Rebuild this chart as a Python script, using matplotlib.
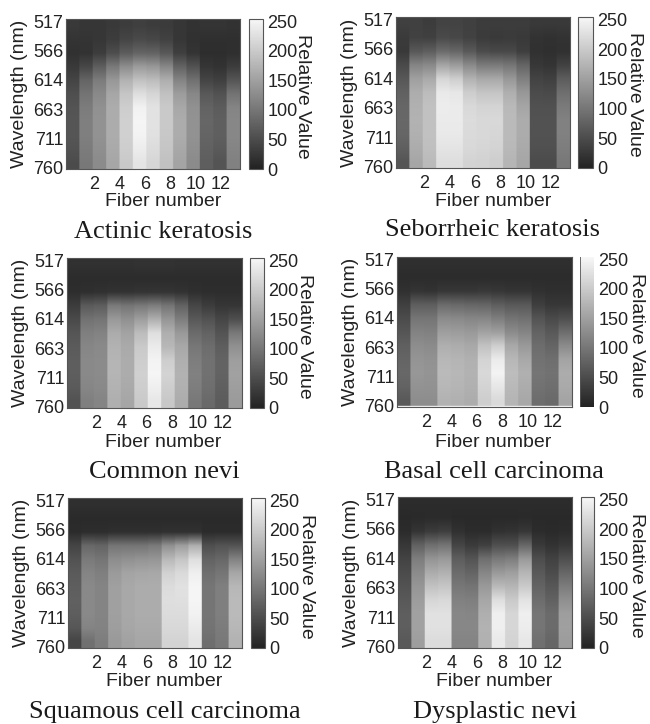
import matplotlib

matplotlib.use("Agg")
import matplotlib.pyplot as plt
import numpy as np
from matplotlib.colors import LinearSegmentedColormap

# 每行一个波长 (517 -> 760 nm), 每列一根光纤 (13 列)
actinic = [
    [28, 25, 25, 28, 32, 35, 32, 30, 25, 20, 22, 22, 20],
    [22, 22, 25, 32, 42, 48, 45, 38, 25, 18, 16, 16, 16],
    [18, 20, 32, 52, 70, 80, 78, 65, 35, 22, 14, 14, 16],
    [28, 45, 72, 105, 128, 145, 140, 122, 78, 58, 24, 20, 32],
    [42, 80, 108, 140, 172, 190, 185, 168, 118, 95, 42, 36, 62],
    [54, 98, 124, 158, 195, 225, 215, 190, 146, 122, 66, 58, 98],
    [60, 108, 132, 165, 205, 248, 230, 200, 160, 132, 78, 70, 118],
    [62, 112, 134, 165, 208, 252, 230, 200, 165, 134, 82, 74, 122],
    [62, 112, 134, 165, 208, 250, 228, 198, 165, 134, 80, 74, 122],
    [58, 108, 130, 162, 205, 242, 222, 195, 160, 130, 76, 68, 118],
    [50, 104, 126, 158, 200, 232, 215, 190, 155, 126, 72, 60, 114],
]
seborrheic = [
    [36, 36, 32, 40, 40, 36, 32, 32, 32, 32, 28, 28, 28],
    [30, 38, 36, 48, 45, 38, 30, 28, 30, 28, 20, 18, 20],
    [28, 65, 72, 88, 82, 66, 50, 46, 46, 34, 18, 16, 18],
    [48, 118, 124, 155, 145, 124, 106, 106, 100, 80, 26, 22, 38],
    [64, 150, 162, 215, 205, 172, 160, 160, 140, 112, 40, 36, 70],
    [76, 166, 184, 238, 235, 204, 194, 194, 168, 140, 50, 48, 92],
    [82, 170, 190, 242, 240, 218, 212, 212, 180, 156, 56, 56, 106],
    [84, 172, 190, 240, 240, 222, 218, 218, 182, 165, 58, 58, 114],
    [82, 170, 190, 238, 238, 220, 218, 215, 182, 165, 58, 58, 114],
    [74, 165, 188, 232, 232, 218, 215, 212, 180, 162, 56, 56, 110],
    [62, 158, 182, 225, 225, 212, 210, 205, 175, 158, 50, 50, 104],
]
common = [
    [18, 18, 18, 18, 18, 20, 20, 20, 18, 18, 18, 18, 18],
    [12, 12, 12, 12, 12, 12, 12, 12, 12, 12, 12, 12, 12],
    [14, 16, 18, 20, 20, 22, 22, 22, 20, 16, 14, 14, 14],
    [32, 68, 72, 106, 100, 105, 110, 100, 78, 44, 32, 24, 24],
    [48, 96, 100, 142, 132, 148, 168, 138, 110, 66, 58, 44, 54],
    [62, 112, 116, 164, 154, 184, 225, 168, 142, 88, 78, 60, 104],
    [68, 120, 124, 172, 162, 200, 240, 178, 160, 102, 90, 72, 132],
    [72, 124, 126, 175, 165, 205, 250, 205, 168, 110, 95, 78, 148],
    [72, 124, 126, 175, 165, 208, 252, 212, 172, 114, 95, 78, 152],
    [68, 120, 124, 172, 162, 205, 245, 205, 170, 110, 92, 74, 148],
    [58, 112, 118, 168, 158, 200, 235, 198, 165, 104, 86, 70, 144],
]
basal = [
    [16, 16, 16, 16, 16, 16, 16, 16, 16, 16, 16, 16, 16],
    [12, 12, 12, 12, 12, 12, 12, 12, 12, 12, 12, 12, 12],
    [18, 22, 20, 25, 25, 25, 27, 25, 22, 22, 18, 16, 16],
    [36, 72, 72, 88, 85, 82, 80, 72, 66, 66, 34, 26, 26],
    [50, 100, 100, 126, 124, 120, 120, 110, 98, 94, 60, 48, 54],
    [62, 116, 114, 148, 146, 142, 152, 148, 126, 118, 78, 66, 90],
    [74, 128, 126, 168, 165, 160, 190, 205, 160, 142, 90, 80, 126],
    [80, 136, 133, 178, 175, 170, 212, 240, 178, 160, 96, 92, 154],
    [84, 140, 136, 182, 178, 172, 218, 250, 185, 170, 100, 96, 165],
    [78, 134, 133, 178, 175, 170, 212, 235, 180, 165, 96, 92, 162],
    [66, 128, 128, 172, 170, 165, 205, 220, 175, 160, 90, 86, 155],
]
squamous = [
    [16, 16, 16, 16, 16, 16, 16, 16, 16, 16, 16, 16, 16],
    [10, 10, 10, 10, 10, 10, 10, 10, 10, 10, 10, 10, 10],
    [12, 14, 14, 16, 16, 16, 16, 18, 18, 18, 12, 12, 12],
    [42, 84, 80, 100, 100, 100, 106, 132, 148, 168, 54, 60, 60],
    [58, 106, 100, 128, 132, 136, 138, 180, 195, 225, 78, 84, 116],
    [68, 118, 112, 144, 155, 158, 160, 210, 220, 245, 92, 100, 158],
    [72, 124, 118, 150, 160, 165, 165, 222, 228, 252, 100, 112, 178],
    [75, 124, 118, 150, 160, 165, 165, 225, 226, 252, 100, 112, 182],
    [72, 124, 118, 150, 160, 165, 165, 222, 222, 248, 100, 112, 182],
    [64, 118, 116, 148, 158, 162, 162, 218, 218, 240, 98, 108, 178],
    [42, 94, 110, 142, 152, 158, 158, 212, 212, 232, 92, 104, 172],
]
dysplastic = [
    [12, 12, 12, 12, 12, 12, 12, 12, 12, 12, 12, 12, 12],
    [9, 10, 11, 11, 9, 9, 9, 9, 9, 10, 9, 9, 9],
    [12, 22, 30, 34, 18, 12, 12, 18, 20, 25, 12, 10, 12],
    [26, 76, 92, 98, 42, 30, 36, 54, 54, 82, 28, 20, 26],
    [40, 110, 136, 142, 72, 60, 92, 104, 110, 142, 52, 38, 54],
    [50, 126, 164, 170, 88, 80, 120, 142, 148, 175, 66, 50, 82],
    [58, 138, 190, 195, 102, 98, 142, 180, 175, 200, 78, 64, 108],
    [66, 146, 215, 218, 114, 112, 158, 225, 200, 230, 90, 76, 130],
    [72, 152, 228, 228, 122, 120, 168, 245, 215, 245, 100, 88, 148],
    [72, 152, 228, 228, 122, 122, 172, 245, 215, 242, 100, 88, 150],
    [66, 148, 222, 222, 118, 118, 170, 238, 212, 235, 94, 82, 146],
]

titles = [
    "Actinic keratosis",
    "Seborrheic keratosis",
    "Common nevi",
    "Basal cell carcinoma",
    "Squamous cell carcinoma",
    "Dysplastic nevi",
]
panels = [actinic, seborrheic, common, basal, squamous, dysplastic]
wavelength_ticks = [517, 566, 614, 663, 711, 760]
fiber_ticks = [2, 4, 6, 8, 10, 12]
value_ticks = [0, 50, 100, 150, 200, 250]

# 版面 (像素): 左, 上, 右, 下
W, H = 650, 724
axes_boxes = [
    (66, 19, 240, 169),
    (396, 17, 570, 168),
    (67, 258, 242, 408),
    (397, 257, 572, 407),
    (68, 498, 242, 648),
    (398, 497, 572, 648),
]
cbar_boxes = [
    (249, 19, 263, 169),
    (578, 17, 593, 168),
    (250, 258, 264, 408),
    (580, 257, 594, 407),
    (251, 498, 265, 648),
    (581, 497, 594, 648),
]
xlabel_pos = [(163, 202), (493, 201), (163, 442), (493, 442), (164, 682), (494, 682)]
title_pos = [(163, 232), (493, 230), (164, 472), (494, 472), (165, 712), (495, 712)]
relval_pos = [(303, 96), (634, 94), (305, 336), (636, 335), (307, 576), (637, 575)]

plt.rcParams["font.family"] = ["Liberation Sans", "DejaVu Sans"]
cmap = LinearSegmentedColormap.from_list("scan_gray", ["#222222", "#f7f7f7"])
spine_color = "#555555"
text_color = "#222222"
tick_size = 13
label_size = 14


def px_box(box):
    left, top, right, bottom = box
    return [left / W, 1 - bottom / H, (right - left) / W, (bottom - top) / H]


fig = plt.figure(figsize=(W / 100, H / 100), dpi=100, facecolor="white")

for i, values in enumerate(panels):
    ax = fig.add_axes(px_box(axes_boxes[i]))
    # 列方向重复, 列边界保持清晰, 只在波长方向平滑
    im = ax.imshow(
        np.repeat(np.array(values), 20, axis=1),
        cmap=cmap,
        vmin=0,
        vmax=254,
        aspect="auto",
        interpolation="bilinear",
        extent=(-0.26, 13.5, 762, 513.5),
    )
    ax.set_xticks(fiber_ticks)
    ax.set_yticks(wavelength_ticks)
    ax.tick_params(axis="x", length=0, pad=5, labelsize=tick_size, labelcolor=text_color)
    ax.tick_params(axis="y", length=0, pad=2, labelsize=tick_size, labelcolor=text_color)
    for s in ax.spines.values():
        s.set_color(spine_color)
        s.set_linewidth(0.8)
    ax.set_ylabel("Wavelength (nm)", fontsize=label_size, color=text_color)
    ax.yaxis.set_label_coords(-0.218, 0.5)

    fig.text(
        xlabel_pos[i][0] / W,
        1 - xlabel_pos[i][1] / H,
        "Fiber number",
        ha="center",
        va="center",
        fontsize=label_size,
        color=text_color,
    )
    fig.text(
        title_pos[i][0] / W,
        1 - title_pos[i][1] / H,
        titles[i],
        ha="center",
        va="center",
        fontsize=19,
        family=["Liberation Serif", "DejaVu Serif"],
        color="#1a1a1a",
    )
    fig.text(
        relval_pos[i][0] / W,
        1 - relval_pos[i][1] / H,
        "Relative Value",
        rotation=270,
        ha="center",
        va="center",
        fontsize=label_size,
        color=text_color,
    )

    cax = fig.add_axes(px_box(cbar_boxes[i]))
    cb = fig.colorbar(im, cax=cax, ticks=value_ticks)
    cb.ax.tick_params(length=0, pad=3, labelsize=tick_size, labelcolor=text_color)
    cb.outline.set_edgecolor(spine_color)
    cb.outline.set_linewidth(0.8)

    # Basal 这张图: 底部有一条白线, 色条只有左边框
    if i == 3:
        ax.axhline(wavelength_ticks[-1], color="#f0f0f0", linewidth=1)
        cb.outline.set_visible(False)
        cax.axvline(cax.get_xlim()[0], color=spine_color, linewidth=1.2)

plt.savefig("out.png", dpi=100)
